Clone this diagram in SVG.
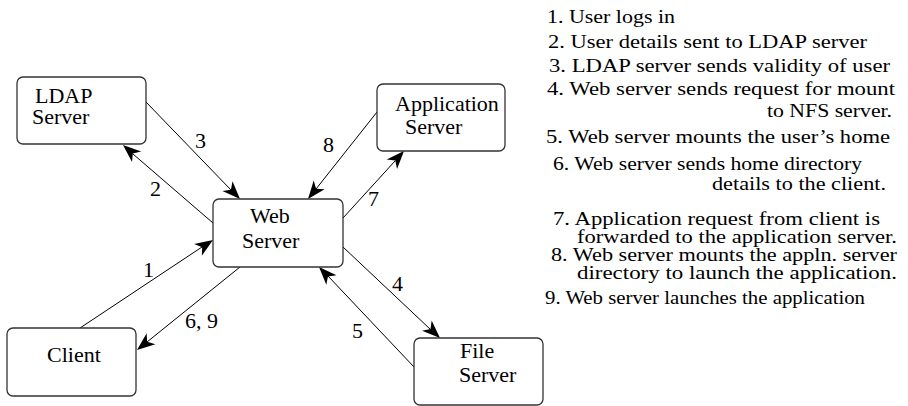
<svg xmlns="http://www.w3.org/2000/svg" width="908" height="406" viewBox="0 0 908 406">
<rect width="908" height="406" fill="#fff"/>
<g id="connectors">
<g stroke="#000" stroke-width="1" fill="none">
<line x1="80" y1="328" x2="202" y2="247"/>
<line x1="213" y1="223" x2="133" y2="154"/>
<line x1="146" y1="102" x2="231" y2="190"/>
<line x1="377" y1="112" x2="316" y2="189"/>
<line x1="343" y1="218" x2="395" y2="161"/>
<line x1="343" y1="247" x2="430" y2="329"/>
<line x1="414" y1="367" x2="328" y2="276"/>
<line x1="240" y1="267" x2="147" y2="342"/>
</g>
<g fill="#000">
<polygon points="213,240 201.85,255.77 202.16,247.18 194.13,244.09"/>
<polygon points="123,145 141.18,151.5 132.82,153.51 132.02,162.08"/>
<polygon points="240,199 222.44,190.94 230.95,189.66 232.5,181.2"/>
<polygon points="308,199 313.71,180.55 316.08,188.81 324.67,189.25"/>
<polygon points="404,151 397.06,169.02 395.25,160.61 386.7,159.6"/>
<polygon points="440,338 422.08,330.79 430.52,329.11 431.66,320.57"/>
<polygon points="319,267 336.48,275.23 327.95,276.43 326.32,284.87"/>
<polygon points="137,350 146.63,333.25 147.12,341.84 155.41,344.15"/>
</g>
<text font-family="Liberation Serif" font-size="22" x="143" y="277">1</text>
<text font-family="Liberation Serif" font-size="22" x="150" y="196">2</text>
<text font-family="Liberation Serif" font-size="22" x="195" y="148">3</text>
<text font-family="Liberation Serif" font-size="22" x="323" y="152">8</text>
<text font-family="Liberation Serif" font-size="22" x="368" y="206">7</text>
<text font-family="Liberation Serif" font-size="22" x="392" y="291">4</text>
<text font-family="Liberation Serif" font-size="22" x="352" y="338">5</text>
<text font-family="Liberation Serif" font-size="22" x="185" y="328">6, 9</text>
</g>
<g id="ldap">
<rect x="17" y="77" width="129" height="67" rx="6" fill="#fff" stroke="#333" stroke-width="1.3"/>
<text font-family="Liberation Serif" font-size="22" x="35" y="103">LDAP</text>
<text font-family="Liberation Serif" font-size="22" x="32" y="124">Server</text>
</g>
<g id="web">
<rect x="213" y="199" width="130" height="68" rx="6" fill="#fff" stroke="#333" stroke-width="1.3"/>
<text font-family="Liberation Serif" font-size="22" x="250" y="223">Web</text>
<text font-family="Liberation Serif" font-size="22" x="242" y="248">Server</text>
</g>
<g id="app">
<rect x="377" y="84" width="128" height="67" rx="6" fill="#fff" stroke="#333" stroke-width="1.3"/>
<text font-family="Liberation Serif" font-size="22" x="395" y="111">Application</text>
<text font-family="Liberation Serif" font-size="22" x="405" y="134">Server</text>
</g>
<g id="client">
<rect x="7" y="328" width="129" height="68" rx="6" fill="#fff" stroke="#333" stroke-width="1.3"/>
<text font-family="Liberation Serif" font-size="22" x="47" y="362">Client</text>
</g>
<g id="file">
<rect x="414" y="338" width="129" height="67" rx="6" fill="#fff" stroke="#333" stroke-width="1.3"/>
<text font-family="Liberation Serif" font-size="22" x="460" y="358">File</text>
<text font-family="Liberation Serif" font-size="22" x="459" y="382">Server</text>
</g>
<g id="legend">
<text font-family="Liberation Serif" font-size="19" x="547" y="23" textLength="128" lengthAdjust="spacingAndGlyphs">1. User logs in</text>
<text font-family="Liberation Serif" font-size="19" x="548" y="48" textLength="319" lengthAdjust="spacingAndGlyphs">2. User details sent to LDAP server</text>
<text font-family="Liberation Serif" font-size="19" x="549" y="72" textLength="341" lengthAdjust="spacingAndGlyphs">3. LDAP server sends validity of user</text>
<text font-family="Liberation Serif" font-size="19" x="547" y="95" textLength="348" lengthAdjust="spacingAndGlyphs">4. Web server sends request for mount</text>
<text font-family="Liberation Serif" font-size="19" x="767" y="117" textLength="125" lengthAdjust="spacingAndGlyphs">to NFS server.</text>
<text font-family="Liberation Serif" font-size="19" x="546" y="143" textLength="344" lengthAdjust="spacingAndGlyphs">5. Web server mounts the user&#8217;s home</text>
<text font-family="Liberation Serif" font-size="19" x="553" y="170" textLength="309" lengthAdjust="spacingAndGlyphs">6. Web server sends home directory</text>
<text font-family="Liberation Serif" font-size="19" x="712" y="190" textLength="174" lengthAdjust="spacingAndGlyphs">details to the client.</text>
<text font-family="Liberation Serif" font-size="19" x="553" y="225" textLength="327" lengthAdjust="spacingAndGlyphs">7. Application request from client is</text>
<text font-family="Liberation Serif" font-size="19" x="577" y="243" textLength="320" lengthAdjust="spacingAndGlyphs">forwarded to the application server.</text>
<text font-family="Liberation Serif" font-size="19" x="551" y="261" textLength="346" lengthAdjust="spacingAndGlyphs">8. Web server mounts the appln. server</text>
<text font-family="Liberation Serif" font-size="19" x="577" y="279" textLength="320" lengthAdjust="spacingAndGlyphs">directory to launch the application.</text>
<text font-family="Liberation Serif" font-size="19" x="545" y="304" textLength="320" lengthAdjust="spacingAndGlyphs">9. Web server launches the application</text>
</g>
</svg>
